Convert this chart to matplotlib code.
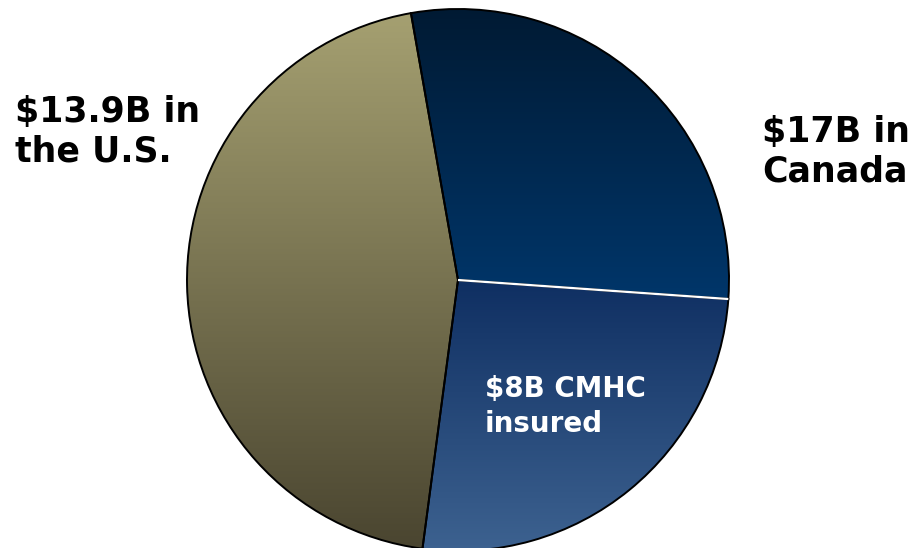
import numpy as np
import matplotlib
matplotlib.use("Agg")
import matplotlib.pyplot as plt
from matplotlib.colors import LinearSegmentedColormap

# Portfolio split (billions of dollars)
segments = ["U.S.", "CMHC insured", "Canada uninsured"]
values = [13.9, 8.0, 8.9]
# top / bottom colours of each slice's vertical gradient
grad_top = ["#a5a071", "#0f2f62", "#011a33"]
grad_bottom = ["#4a4530", "#3d6290", "#00366a"]

label_us = "$13.9B in\nthe U.S."
label_ca = "$17B in\nCanada"
label_cmhc = "$8B CMHC\ninsured"

W, H = 913, 548
fig = plt.figure(figsize=(W / 100, H / 100), dpi=100)
ax = fig.add_axes([0, 0, 1, 1])

cx, cy, r = 458, 280, 271  # pie centre / radius in pixels

wedges, _ = ax.pie(values, startangle=100, counterclock=True, radius=1,
                   center=(0, 0),
                   wedgeprops=dict(edgecolor="black", linewidth=1.4,
                                   facecolor="none"))
ax.axis("off")
ax.set_aspect("auto")

# fill each wedge with a vertical gradient clipped to its outline
for w, ct, cb in zip(wedges, grad_top, grad_bottom):
    cmap = LinearSegmentedColormap.from_list("g", [cb, ct])
    bb = w.get_path().get_extents(w.get_patch_transform())
    grad = np.linspace(0, 1, 256).reshape(-1, 1)
    im = ax.imshow(grad, cmap=cmap, origin="lower", aspect="auto",
                   extent=(bb.x0, bb.x1, bb.y0, bb.y1), zorder=0.5)
    im.set_clip_path(w)
    w.set_zorder(2)

# white divider between the two Canadian slices
total = sum(values)
ang = np.deg2rad(100 + (values[0] + values[1]) / total * 360)
ax.plot([0, np.cos(ang)], [0, np.sin(ang)], color="white", lw=1.6,
        zorder=3, solid_capstyle="butt")

ax.set_xlim(-cx / r, (W - cx) / r)
ax.set_ylim(-(H - cy) / r, cy / r)

font = dict(family="DejaVu Sans", weight="bold")
fig.text(15 / W, 1 - 162 / H, label_us, fontsize=25, color="black",
         ha="left", va="baseline", linespacing=1.24, **font)
fig.text(762 / W, 1 - 182 / H, label_ca, fontsize=25, color="black",
         ha="left", va="baseline", linespacing=1.24, **font)
fig.text(485 / W, 1 - 432 / H, label_cmhc, fontsize=20, color="white",
         ha="left", va="baseline", linespacing=1.31, **font)

fig.savefig("out.png", dpi=100)
